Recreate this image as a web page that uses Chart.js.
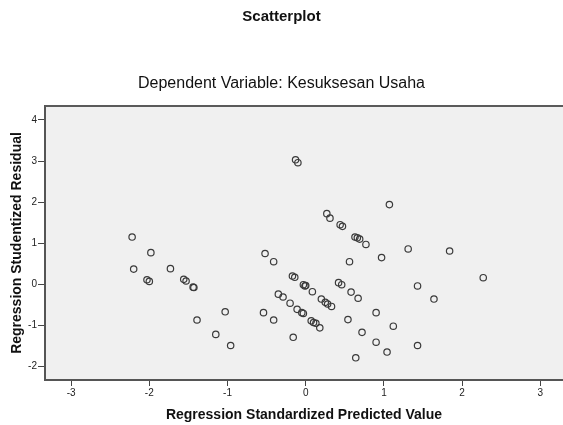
<!DOCTYPE html>
<html>
<head>
<meta charset="utf-8">
<script src="https://cdn.jsdelivr.net/npm/chart.js@4"></script>
<style>
  body { margin: 0; background: #fff; }
  #chart { display: block; }
</style>
</head>
<body>
<canvas id="chart" width="563" height="425"></canvas>
<script>
// Regression Standardized Predicted Value (x) / Studentized Residual (y)
const predicted = [
  -2.22, -2.20, -1.98, -2.03, -2.00, -1.73, -1.56, -1.53, -1.44, -1.43,
  -1.39, -1.03, -1.15, -0.96, -0.52, -0.41, -0.13, -0.10, -0.17, -0.14,
  -0.03, -0.01, 0.00, 0.085, -0.35, -0.29, -0.20, -0.11, -0.05, -0.03,
  -0.54, -0.41, -0.16, 0.07, 0.10, 0.13, 0.18, 0.20, 0.25, 0.28,
  0.33, 0.42, 0.46, 0.58, 0.67, 0.27, 0.31, 0.44, 0.47, 0.63,
  0.66, 0.69, 0.77, 1.07, 1.31, 1.84, 0.56, 0.97, 2.27, 1.43,
  1.64, 0.90, 0.54, 1.12, 0.72, 0.90, 1.04, 1.43, 0.64
];
const residual = [
  1.15, 0.37, 0.77, 0.11, 0.07, 0.38, 0.12, 0.08, -0.07, -0.08,
  -0.87, -0.67, -1.22, -1.49, 0.75, 0.55, 3.03, 2.96, 0.20, 0.17,
  -0.01, -0.04, -0.03, -0.18, -0.24, -0.31, -0.46, -0.61, -0.69, -0.71,
  -0.69, -0.87, -1.29, -0.89, -0.93, -0.95, -1.06, -0.36, -0.44, -0.48,
  -0.54, 0.04, -0.01, -0.19, -0.34, 1.72, 1.61, 1.45, 1.41, 1.15,
  1.13, 1.10, 0.97, 1.94, 0.86, 0.81, 0.55, 0.65, 0.16, -0.04,
  -0.36, -0.69, -0.86, -1.02, -1.17, -1.41, -1.65, -1.49, -1.79
];
const xTicks = [-3, -2, -1, 0, 1, 2, 3];
const yTicks = [-2, -1, 0, 1, 2, 3, 4];

const points = predicted.map((x, i) => ({ x: x, y: residual[i] }));
const FONT = "Arial, 'Liberation Sans', sans-serif";

// grey plot background and top frame line
const plotFrame = {
  id: 'plotFrame',
  beforeDraw(chart) {
    const { ctx, chartArea: a } = chart;
    ctx.save();
    ctx.fillStyle = '#f0f0f0';
    ctx.fillRect(a.left, a.top, a.right - a.left, a.bottom - a.top);
    ctx.restore();
  },
  afterDraw(chart) {
    const { ctx, chartArea: a } = chart;
    ctx.save();
    ctx.strokeStyle = '#5a5a5a';
    ctx.lineWidth = 2;
    ctx.beginPath();
    ctx.moveTo(a.left, a.top);
    ctx.lineTo(a.right, a.top);
    ctx.stroke();
    ctx.restore();
  }
};

new Chart(document.getElementById('chart'), {
  type: 'scatter',
  data: {
    datasets: [{
      data: points,
      pointRadius: 3.2,
      pointBorderWidth: 1.2,
      pointBorderColor: '#3a3a3a',
      pointBackgroundColor: 'rgba(0,0,0,0)'
    }]
  },
  plugins: [plotFrame],
  options: {
    responsive: false,
    animation: false,
    layout: { padding: 0, autoPadding: false },
    plugins: {
      legend: { display: false },
      tooltip: { enabled: false },
      title: {
        display: true,
        text: 'Scatterplot',
        color: '#111',
        font: { family: FONT, size: 15, weight: 'bold' },
        padding: { top: 8, bottom: 0 }
      },
      subtitle: {
        display: true,
        text: 'Dependent Variable: Kesuksesan Usaha',
        color: '#111',
        font: { family: FONT, size: 16, weight: 'normal' },
        padding: { top: 48.4, bottom: 12.4 }
      }
    },
    scales: {
      x: {
        type: 'linear',
        min: -3.334,
        max: 3.29,
        afterBuildTicks: s => { s.ticks = xTicks.map(v => ({ value: v })); },
        afterFit: s => { s.height = 45; s.paddingLeft = 0; s.paddingRight = 0; },
        grid: { display: true, drawOnChartArea: false, drawTicks: true, tickLength: 6, color: '#444' },
        border: { display: true, color: '#555', width: 2 },
        ticks: { color: '#222', font: { family: FONT, size: 10 }, padding: 1, maxRotation: 0 },
        title: {
          display: true,
          text: 'Regression Standardized Predicted Value',
          color: '#111',
          font: { family: FONT, size: 14, weight: 'bold' },
          padding: { top: 0, bottom: 1.6 }
        }
      },
      y: {
        type: 'linear',
        min: -2.33,
        max: 4.34,
        afterBuildTicks: s => { s.ticks = yTicks.map(v => ({ value: v })); },
        afterFit: s => { s.width = 45; s.paddingTop = 0; s.paddingBottom = 0; },
        grid: { display: true, drawOnChartArea: false, drawTicks: true, tickLength: 7, color: '#444' },
        border: { display: true, color: '#555', width: 2 },
        ticks: { color: '#222', font: { family: FONT, size: 10 }, padding: 1 },
        title: {
          display: true,
          text: 'Regression Studentized Residual',
          color: '#111',
          font: { family: FONT, size: 14, weight: 'bold' },
          padding: { top: 8.6, bottom: 0 }
        }
      }
    }
  }
});
</script>
</body>
</html>
